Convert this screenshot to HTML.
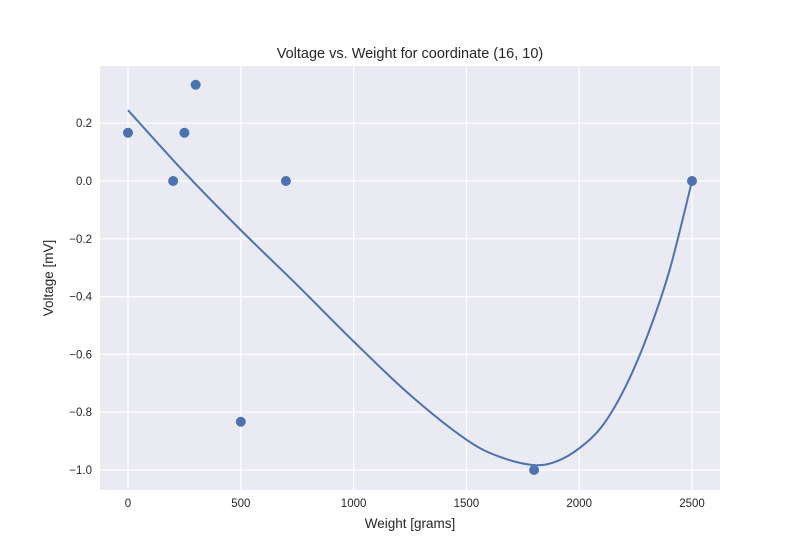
<!DOCTYPE html>
<html><head><meta charset="utf-8"><style>
body{margin:0;background:#fff;}
svg{display:block;font-family:"Liberation Sans","DejaVu Sans",sans-serif;}
</style></head><body>
<svg id="chart" width="800" height="550">
<rect x="100" y="66" width="620" height="424" fill="#eaeaf2"/>
<g id="grid"></g>
<g id="marks"></g>
<g id="ticks"></g>
<text x="410" y="58" text-anchor="middle" font-size="14.5" fill="#262626">Voltage vs. Weight for coordinate (16, 10)</text>
<text x="410" y="528" text-anchor="middle" font-size="13.5" fill="#262626">Weight [grams]</text>
<text transform="translate(53,278) rotate(-90)" text-anchor="middle" font-size="13.5" fill="#262626">Voltage [mV]</text>
</svg>
<script>
const pointX=[0,200,250,300,500,700,1800,2500];
const pointY=[0.167,0,0.167,0.333,-0.833,0,-1,0];
const fitX=[0,250,500,750,1000,1250,1500,1650,1800,1900,2000,2100,2200,2300,2400,2500];
const fitY=[0.245,0.03,-0.17,-0.36,-0.555,-0.74,-0.895,-0.955,-0.983,-0.97,-0.925,-0.85,-0.72,-0.54,-0.31,0.0];
const xTicks=[0,500,1000,1500,2000,2500];
const yTicks=[0.2,0.0,-0.2,-0.4,-0.6,-0.8,-1.0];
const NS="http://www.w3.org/2000/svg";
const L=100,R=720,T=66,B=490;
const xs=v=>128+(v-0)*(692-128)/2500;
const ys=v=>181-v*289;
function mk(tag,attrs,parent){const e=document.createElementNS(NS,tag);for(const k in attrs)e.setAttribute(k,attrs[k]);parent.appendChild(e);return e;}
const grid=document.getElementById('grid'),marks=document.getElementById('marks'),ticks=document.getElementById('ticks');
xTicks.forEach(v=>{
  const l=mk('line',{x1:xs(v),x2:xs(v),y1:T,y2:B,stroke:'#fff','stroke-width':1.2},grid);
  
  
  const t=mk('text',{x:xs(v),y:B+17,'text-anchor':'middle','font-size':11.5,fill:'#262626'},ticks);
  t.textContent=String(v);
  
  
});
yTicks.forEach(v=>{
  const l=mk('line',{x1:L,x2:R,y1:ys(v),y2:ys(v),stroke:'#fff','stroke-width':1.2},grid);
  
  
  const t=mk('text',{x:L-8,y:ys(v)+4,'text-anchor':'end','font-size':11.5,fill:'#262626'},ticks);
  t.textContent=v.toFixed(1).replace('-','\u2212');
  
  
});
const P=fitX.map((x,i)=>[xs(x),ys(fitY[i])]);
let d='M'+P[0][0]+','+P[0][1];
for(let i=0;i<P.length-1;i++){
  const p0=P[Math.max(0,i-1)],p1=P[i],p2=P[i+1],p3=P[Math.min(P.length-1,i+2)];
  const c1=[p1[0]+(p2[0]-p0[0])/6,p1[1]+(p2[1]-p0[1])/6];
  const c2=[p2[0]-(p3[0]-p1[0])/6,p2[1]-(p3[1]-p1[1])/6];
  d+=' C'+c1+' '+c2+' '+p2;
}
const path=mk('path',{d:d,fill:'none',stroke:'#4c72b0','stroke-width':2},marks);


pointX.forEach((x,i)=>{
  const c=mk('circle',{cx:xs(x),cy:ys(pointY[i]),r:5,fill:'#4c72b0'},marks);
  
  
});
</script>
</body></html>
